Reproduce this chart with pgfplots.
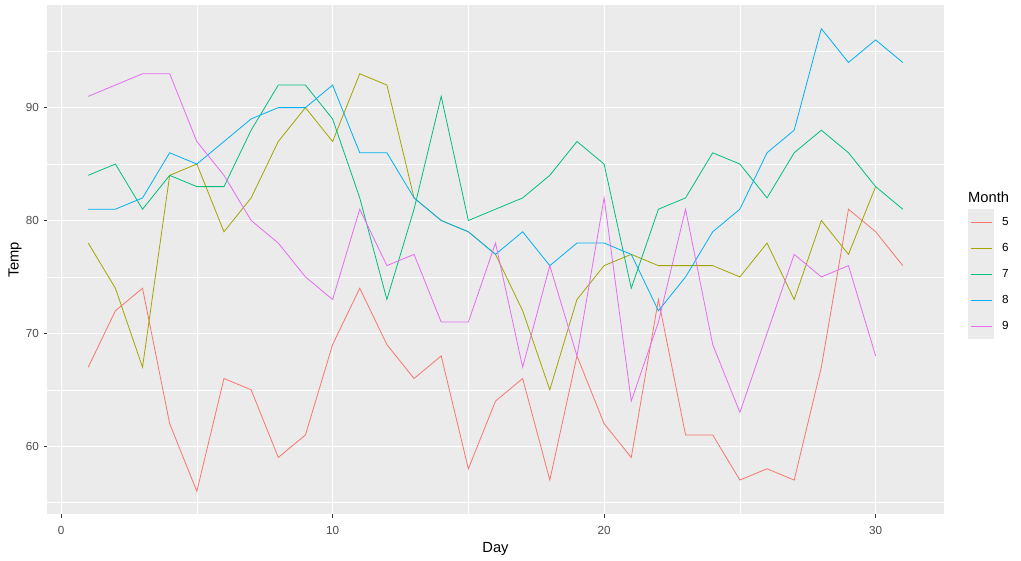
\documentclass[border=0pt]{standalone}
\usepackage{pgfplots}
\pgfplotsset{compat=1.18}
\usepackage{fontspec}
\setmainfont{Liberation Sans}
\usetikzlibrary{calc}
\definecolor{c5}{HTML}{F8766D}
\definecolor{c6}{HTML}{A3A500}
\definecolor{c7}{HTML}{00BF7D}
\definecolor{c8}{HTML}{00B0F6}
\definecolor{c9}{HTML}{E76BF3}
\definecolor{panel}{HTML}{EBEBEB}
\definecolor{tickc}{HTML}{4D4D4D}
\definecolor{tickm}{HTML}{333333}
\pgfplotsset{
  keyline/.style={legend image code/.code={
    \fill[panel] (0pt,-12.6pt) rectangle (25pt,12.6pt);
    \draw[#1, line width=1pt] (2pt,0pt) -- (23pt,0pt);}}
}
\begin{document}
\begin{tikzpicture}
\begin{axis}[
  name=a, at={(0,0)}, anchor=south west,
  scale only axis, width=896pt, height=509pt,
  xmin=-0.5, xmax=32.5, ymin=53.95, ymax=99.05,
  axis background/.style={fill=panel},
  axis line style={draw=none},
  xtick={0,10,20,30}, ytick={60,70,80,90},
  minor xtick={5,15,25}, minor ytick={55,65,75,85,95},
  grid=both,
  major grid style={white, line width=1.07pt},
  minor grid style={white, line width=0.53pt},
  tick align=outside, major tick length=3.7pt, minor tick length=0pt,
  tick style={tickm, line width=1.07pt},
  xtick pos=lower, ytick pos=left,
  /pgf/number format/assume math mode=true,
  tick label style={font=\fontsize{11.7}{12}\selectfont, text=tickc},
  xticklabel style={yshift=-5pt},
  yticklabel style={xshift=-1.3pt},
  legend style={at={(1.02734,0.6002)}, anchor=north west, draw=none, fill=none,
    inner sep=0pt, row sep=0pt, column sep=0pt,
    nodes={inner sep=0pt, font=\fontsize{11.7}{12}\selectfont}},
  legend cell align=left,
  every axis plot/.append style={line width=0.8pt, mark=none},
]
\addplot[c5, keyline=c5] coordinates {(1,67)(2,72)(3,74)(4,62)(5,56)(6,66)(7,65)(8,59)(9,61)(10,69)(11,74)(12,69)(13,66)(14,68)(15,58)(16,64)(17,66)(18,57)(19,68)(20,62)(21,59)(22,73)(23,61)(24,61)(25,57)(26,58)(27,57)(28,67)(29,81)(30,79)(31,76)};
\addlegendentry{\hspace{8pt}5}
\addplot[c6, keyline=c6] coordinates {(1,78)(2,74)(3,67)(4,84)(5,85)(6,79)(7,82)(8,87)(9,90)(10,87)(11,93)(12,92)(13,82)(14,80)(15,79)(16,77)(17,72)(18,65)(19,73)(20,76)(21,77)(22,76)(23,76)(24,76)(25,75)(26,78)(27,73)(28,80)(29,77)(30,83)};
\addlegendentry{\hspace{8pt}6}
\addplot[c7, keyline=c7] coordinates {(1,84)(2,85)(3,81)(4,84)(5,83)(6,83)(7,88)(8,92)(9,92)(10,89)(11,82)(12,73)(13,81)(14,91)(15,80)(16,81)(17,82)(18,84)(19,87)(20,85)(21,74)(22,81)(23,82)(24,86)(25,85)(26,82)(27,86)(28,88)(29,86)(30,83)(31,81)};
\addlegendentry{\hspace{8pt}7}
\addplot[c8, keyline=c8] coordinates {(1,81)(2,81)(3,82)(4,86)(5,85)(6,87)(7,89)(8,90)(9,90)(10,92)(11,86)(12,86)(13,82)(14,80)(15,79)(16,77)(17,79)(18,76)(19,78)(20,78)(21,77)(22,72)(23,75)(24,79)(25,81)(26,86)(27,88)(28,97)(29,94)(30,96)(31,94)};
\addlegendentry{\hspace{8pt}8}
\addplot[c9, keyline=c9] coordinates {(1,91)(2,92)(3,93)(4,93)(5,87)(6,84)(7,80)(8,78)(9,75)(10,73)(11,81)(12,76)(13,77)(14,71)(15,71)(16,78)(17,67)(18,76)(19,68)(20,82)(21,64)(22,71)(23,81)(24,69)(25,63)(26,70)(27,77)(28,75)(29,76)(30,68)};
\addlegendentry{\hspace{8pt}9}
\end{axis}
\node[font=\fontsize{14.7}{16}\selectfont] at ($(a.south)+(0,-34.5pt)$) {Day};
\node[font=\fontsize{14.7}{16}\selectfont, rotate=90] at ($(a.west)+(-32.5pt,0)$) {Temp};
\node[font=\fontsize{14.7}{16}\selectfont, anchor=west, inner sep=0pt] at ($(a.north east)+(24.5pt,-191.5pt)$) {Month};
\path[use as bounding box] ($(a.south west)+(-47.5pt,-46.5pt)$) rectangle ($(a.north east)+(77.5pt,5.5pt)$);
\end{tikzpicture}
\end{document}
